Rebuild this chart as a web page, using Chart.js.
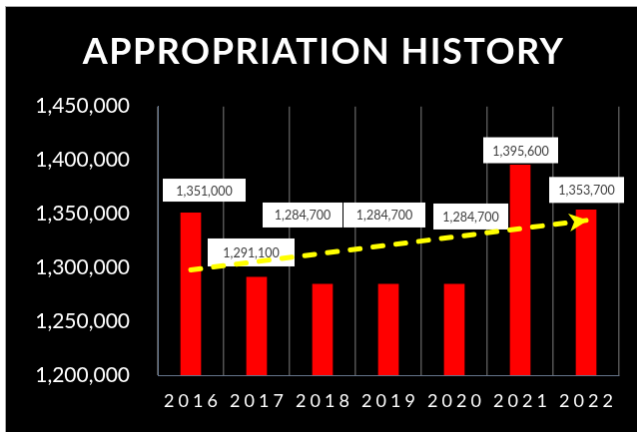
<!DOCTYPE html>
<html><head><meta charset="utf-8">
<script src="https://cdn.jsdelivr.net/npm/chart.js@4"></script>
<style>
html,body{margin:0;padding:0;background:#fff;width:638px;height:433px;overflow:hidden}
#c{position:absolute;left:5px;top:6px;border-left:1px solid #a6a6a6;border-top:1px solid #a6a6a6;background:#000}
</style></head><body>
<canvas id="c" width="632" height="426"></canvas>
<script>
const chartTitle = 'APPROPRIATION HISTORY';
const years = ['2016','2017','2018','2019','2020','2021','2022'];
const appropriations = [1351000,1291100,1284700,1284700,1284700,1395600,1353700];
const trendEnds = [1298000,null,null,null,null,null,1344000];
const yMin = 1200000, yMax = 1450000, yStep = 50000;

const fmt = new Intl.NumberFormat('en-US');

// label box layout: [dx, dy, w, h] relative to bar top-centre (pixels)
const labelBoxes = [[13.5,-22.8,83,23],[-5.5,-24.9,87,28],[-20,-69.3,80,25],[-4,-69.3,82,25],[16.5,-67.8,75,26],[0.5,-14.8,75,26],[0.5,-20.1,75,26]];

const labelPlugin = {
  id:'barLabels',
  afterDatasetDraw(chart, args){
    if(args.index!==0) return;
    const ctx=chart.ctx;
    ctx.save();
    ctx.font='12.5px Lato';
    ctx.textAlign='center'; ctx.textBaseline='middle';
    args.meta.data.forEach((bar,i)=>{
      const [dx,dy,w,h]=labelBoxes[i];
      const cx=bar.x+dx, cy=bar.y+dy;
      ctx.fillStyle='#ffffff';
      ctx.fillRect(cx-w/2, cy-h/2, w, h);
      ctx.fillStyle='#404040';
      ctx.fillText(fmt.format(chart.data.datasets[0].data[i]), cx, cy+1);
    });
    ctx.restore();
  }
};

const arrowPlugin = {
  id:'trendArrow',
  afterDatasetDraw(chart,args){
    if(args.index!==1) return;
    const data=chart.data.datasets[1].data;
    const pts=args.meta.data.filter((p,i)=>data[i]!=null);
    const a=pts[0], b=pts[pts.length-1];
    const ang=Math.atan2(b.y-a.y,b.x-a.x);
    const ctx=chart.ctx;
    ctx.save();
    ctx.translate(b.x,b.y); ctx.rotate(ang);
    ctx.beginPath();
    ctx.moveTo(2,0); ctx.lineTo(-17,-9); ctx.lineTo(-12,0); ctx.lineTo(-17,9); ctx.closePath();
    ctx.fillStyle='#ffff00'; ctx.fill();
    ctx.restore();
  }
};

function spaceBox(box, flag, spacing, shift){
  if(!box || box[flag]) return;
  const orig=box.draw.bind(box);
  box.draw=function(area){
    const ctx=this.ctx; ctx.save(); ctx.letterSpacing=spacing; ctx.translate(shift,0); orig(area); ctx.restore();
  };
  box[flag]=true;
}

const spacedText = {
  id:'spacedText',
  afterLayout(chart){
    const sc=chart.scales.x;
    if(!sc._spaced){
      const orig=sc.drawLabels.bind(sc);
      sc.drawLabels=function(area){
        const ctx=this.ctx; ctx.save(); ctx.letterSpacing='4px'; ctx.translate(2,0); orig(area); ctx.restore();
      };
      sc._spaced=true;
    }
    spaceBox(chart.titleBlock,'_spaced','1.5px',11);
  }
};

new Chart(document.getElementById('c'),{
  type:'bar',
  data:{
    labels:years,
    datasets:[
      {type:'bar',data:appropriations,backgroundColor:'#ff0000',barThickness:20,order:2},
      {type:'line',data:trendEnds,spanGaps:true,borderColor:'#ffff00',borderWidth:5,borderDash:[10,13],borderCapStyle:'round',pointRadius:0,fill:false,order:1}
    ]
  },
  options:{
    responsive:false, animation:false,
    layout:{padding:{right:18}},
    plugins:{
      legend:{display:false}, tooltip:{enabled:false},
      title:{display:true,text:chartTitle,color:'#ffffff',font:{family:'Lato',size:36,weight:'bold'},padding:{top:24,bottom:32.5}}
    },
    scales:{
      x:{grid:{color:'#555555',lineWidth:1.5,offset:true,drawTicks:false},border:{color:'#66758c',width:1},
         ticks:{color:'#ffffff',font:{family:'Lato',size:18},padding:15},afterFit(s){s.height=57;}},
      y:{min:yMin,max:yMax,grid:{display:false,drawTicks:false},border:{color:'#66758c',width:1},
         ticks:{stepSize:yStep,color:'#ffffff',font:{family:'Lato',size:21},padding:28,callback:v=>fmt.format(v)},
         afterFit(s){s.width=152;}}
    }
  },
  plugins:[labelPlugin,arrowPlugin,spacedText]
});
</script>
</body></html>
